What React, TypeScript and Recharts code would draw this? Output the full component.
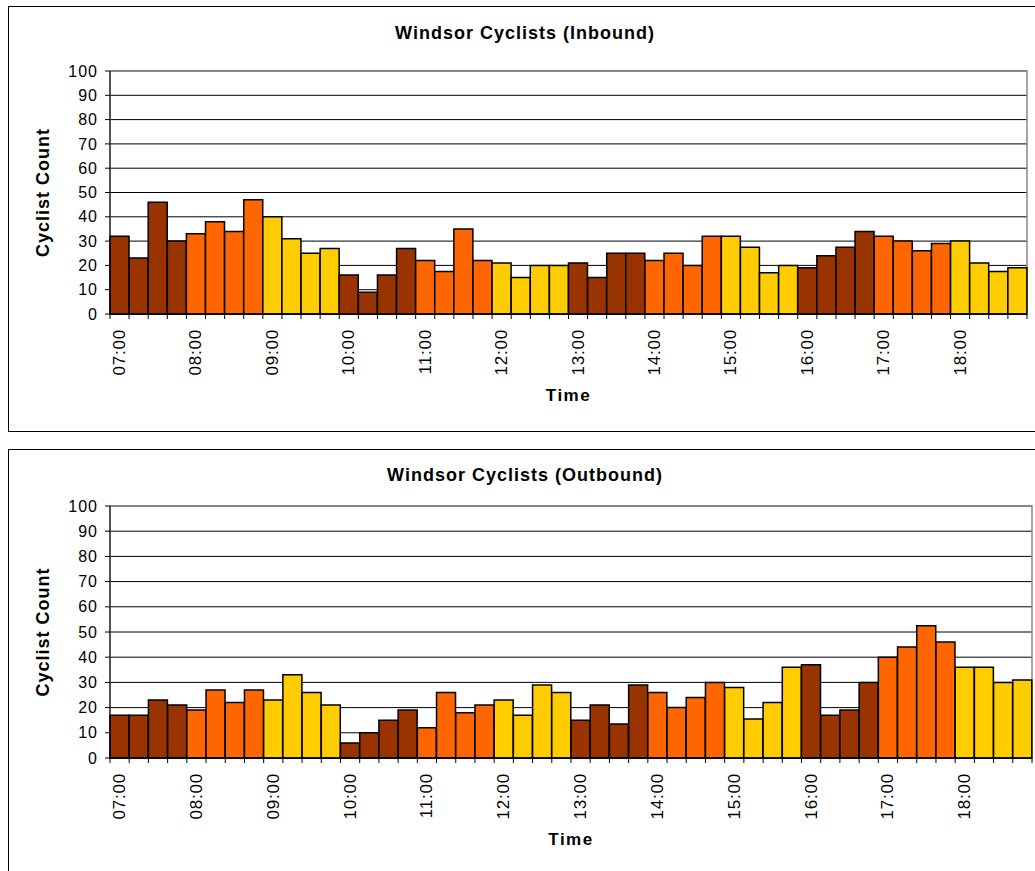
import { BarChart, Bar, XAxis, YAxis, CartesianGrid, Cell, ReferenceArea } from 'recharts';

// 15-minute slots, 07:00 .. 18:45
const times: string[] = [];
for (let h = 7; h <= 18; h++) {
  for (const m of ['00', '15', '30', '45']) times.push(`${String(h).padStart(2, '0')}:${m}`);
}

const inbound = [
  32, 23, 46, 30, 33, 38, 34, 47, 40, 31, 25, 27,
  16, 9, 16, 27, 22, 17.5, 35, 22, 21, 15, 20, 20,
  21, 15, 25, 25, 22, 25, 20, 32, 32, 27.5, 17, 20,
  19, 24, 27.5, 34, 32, 30, 26, 29, 30, 21, 17.5, 19,
];

const outbound = [
  17, 17, 23, 21, 19, 27, 22, 27, 23, 33, 26, 21,
  6, 10, 15, 19, 12, 26, 18, 21, 23, 17, 29, 26,
  15, 21, 13.5, 29, 26, 20, 24, 30, 28, 15.5, 22, 36,
  37, 17, 19, 30, 40, 44, 52.5, 46, 36, 36, 30, 31,
];

const yTicks = [0, 10, 20, 30, 40, 50, 60, 70, 80, 90, 100];
const hourColors = ['#993300', '#FF6600', '#FFCC00'];

const FONT = "Arial, 'Liberation Sans', sans-serif";
const CHART_W = 1032;
const Y_AXIS_W = 101;
const X_AXIS_H = 117;

function TimeTick(props: any) {
  const { x, y, index, payload, bandWidth } = props;
  const axisY = y - 5;
  const left = x - bandWidth / 2;
  const ly = axisY + 15;
  return (
    <g>
      <line x1={left} y1={axisY} x2={left} y2={axisY + 5} stroke="#000" />
      {index === times.length - 1 && (
        <line x1={x + bandWidth / 2} y1={axisY} x2={x + bandWidth / 2} y2={axisY + 5} stroke="#000" />
      )}
      {index % 4 === 0 && (
        <text
          x={x}
          y={ly}
          transform={`rotate(-90 ${x} ${ly})`}
          textAnchor="end"
          dominantBaseline="central"
          fontSize={17}
          fontFamily={FONT}
          letterSpacing={0.8}
          fill="#000"
        >
          {payload.value}
        </text>
      )}
    </g>
  );
}

interface PanelProps {
  title: string;
  values: number[];
  frameTop: number;
  frameHeight: number;
  titleTop: number;
  chartHeight: number;
  marginTop: number;
  marginRight: number;
}

function Panel({ title, values, frameTop, frameHeight, titleTop, chartHeight, marginTop, marginRight }: PanelProps) {
  const data = times.map((t, i) => ({ time: t, count: values[i] }));
  const bw = (CHART_W - Y_AXIS_W - marginRight) / times.length;
  return (
    <div
      style={{
        position: 'absolute',
        left: 8,
        top: frameTop,
        width: 1034,
        height: frameHeight,
        border: '1px solid #000',
        boxSizing: 'border-box',
        background: '#fff',
      }}
    >
      <div
        style={{
          position: 'absolute',
          left: 0,
          width: CHART_W,
          top: titleTop,
          textAlign: 'center',
          fontFamily: FONT,
          fontWeight: 'bold',
          fontSize: 18,
          lineHeight: '20px',
          letterSpacing: 1,
        }}
      >
        {title}
      </div>
      <div style={{ position: 'absolute', left: 0, top: 0 }}>
        <BarChart
          width={CHART_W}
          height={chartHeight}
          data={data}
          margin={{ top: marginTop, right: marginRight, left: 0, bottom: 0 }}
          barCategoryGap={0}
          barGap={0}
        >
          <CartesianGrid vertical={false} stroke="#000" />
          <ReferenceArea
            x1={times[0]}
            x2={times[times.length - 1]}
            y1={0}
            y2={100}
            fill="none"
            stroke="#888"
            strokeWidth={1.5}
            ifOverflow="visible"
          />
          <XAxis
            dataKey="time"
            interval={0}
            height={X_AXIS_H}
            tickSize={5}
            tickMargin={0}
            tickLine={false}
            axisLine={{ stroke: '#000', strokeWidth: 1.5 }}
            tick={(p: any) => <TimeTick {...p} bandWidth={bw} />}
            label={{
              value: 'Time',
              position: 'insideBottom',
              offset: 30,
              style: { fontFamily: FONT, fontWeight: 'bold', fontSize: 17, letterSpacing: 1.5, fill: '#000' },
            }}
          />
          <YAxis
            width={Y_AXIS_W}
            domain={[0, 100]}
            ticks={yTicks}
            interval={0}
            tickSize={5}
            tickMargin={7}
            axisLine={{ stroke: '#000' }}
            tickLine={{ stroke: '#000' }}
            tick={{ fontSize: 16, fill: '#000', fontFamily: FONT, letterSpacing: 1 }}
            label={{
              value: 'Cyclist Count',
              angle: -90,
              position: 'insideLeft',
              offset: 34,
              style: { textAnchor: 'middle', fontFamily: FONT, fontWeight: 'bold', fontSize: 18, letterSpacing: 1, fill: '#000' },
            }}
          />
          <Bar dataKey="count" stroke="#000" strokeWidth={1.5} isAnimationActive={false}>
            {data.map((d, i) => (
              <Cell key={d.time} fill={hourColors[Math.floor(i / 4) % 3]} />
            ))}
          </Bar>
        </BarChart>
      </div>
    </div>
  );
}

export default function App() {
  return (
    <div
      style={{
        position: 'absolute',
        left: 0,
        top: 0,
        width: 1035,
        height: 871,
        overflow: 'hidden',
        background: '#fff',
      }}
    >
      <Panel
        title="Windsor Cyclists (Inbound)"
        values={inbound}
        frameTop={6}
        frameHeight={426}
        titleTop={16}
        chartHeight={424}
        marginTop={64}
        marginRight={14}
      />
      <Panel
        title="Windsor Cyclists (Outbound)"
        values={outbound}
        frameTop={449}
        frameHeight={460}
        titleTop={15}
        chartHeight={425}
        marginTop={56}
        marginRight={9}
      />
    </div>
  );
}
